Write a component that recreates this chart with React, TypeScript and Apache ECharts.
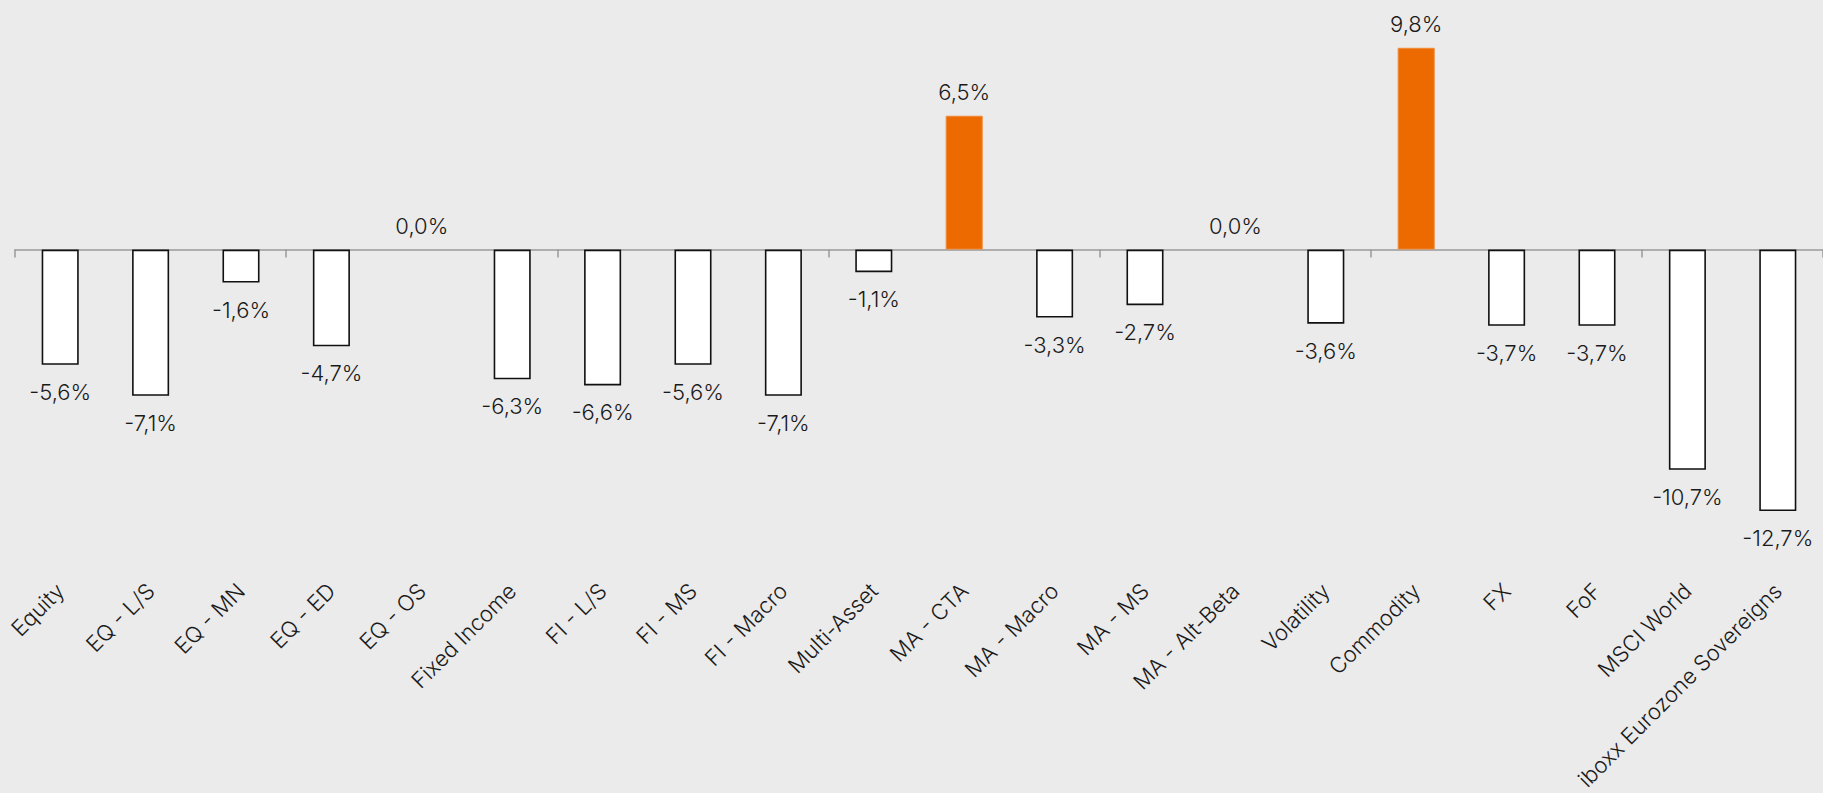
import React, { useEffect, useRef } from "react";
import * as echarts from "echarts";

const categories: string[] = [
  "Equity",
  "EQ - L/S",
  "EQ - MN",
  "EQ - ED",
  "EQ - OS",
  "Fixed Income",
  "FI - L/S",
  "FI - MS",
  "FI - Macro",
  "Multi-Asset",
  "MA - CTA",
  "MA - Macro",
  "MA - MS",
  "MA - Alt-Beta",
  "Volatility",
  "Commodity",
  "FX",
  "FoF",
  "MSCI World",
  "iboxx Eurozone Sovereigns",
];

const values: number[] = [
  -5.6, -7.1, -1.6, -4.7, 0.0, -6.3, -6.6, -5.6, -7.1, -1.1, 6.5, -3.3, -2.7, 0.0,
  -3.6, 9.8, -3.7, -3.7, -10.7, -12.7,
];

const highlighted: string[] = ["MA - CTA", "Commodity"];

const Y_MIN = -16;
const Y_MAX = 12;

const FONT = "Inter, 'Liberation Sans', sans-serif";

export default function App() {
  const ref = useRef<HTMLDivElement>(null);

  useEffect(() => {
    if (!ref.current) return;
    const chart = echarts.init(ref.current, null, { renderer: "svg" });

    const data = values.map((v, i) => {
      const hl = highlighted.includes(categories[i]);
      return {
        value: v,
        itemStyle: hl
          ? { color: "#EC6A00", borderColor: "#F08A3A", borderWidth: 1 }
          : {
              color: "#FFFFFF",
              borderColor: "#111111",
              borderWidth: v === 0 ? 0 : 1.6,
            },
        label:
          v < 0
            ? { position: "bottom", distance: 16 }
            : { position: "top", distance: 13 },
      };
    });

    chart.setOption({
      animation: false,
      backgroundColor: "#EBEBEB",
      grid: { left: 15, right: -6, top: 2.5, height: 580, containLabel: false },
      xAxis: [
        {
          type: "category",
          data: categories,
          axisLine: { onZero: true, lineStyle: { color: "#9A9A9A", width: 1.5 } },
          axisTick: { show: true, length: 8, lineStyle: { color: "#9A9A9A", width: 1.5 } },
          axisLabel: { show: false },
          splitLine: { show: false },
        },
        {
          type: "category",
          data: categories,
          position: "bottom",
          axisLine: { show: false, onZero: false },
          axisTick: { show: false },
          axisLabel: {
            show: true,
            rotate: 45,
            interval: 0,
            margin: 8,
            color: "#1A1A1A",
            fontSize: 22,
            fontFamily: FONT,
            fontWeight: 300,
          },
          splitLine: { show: false },
        },
      ],
      yAxis: {
        type: "value",
        min: Y_MIN,
        max: Y_MAX,
        show: false,
        splitLine: { show: false },
      },
      series: [
        {
          type: "bar",
          xAxisIndex: 0,
          data,
          barWidth: "41%",
          label: {
            show: true,
            color: "#1A1A1A",
            fontSize: 22,
            fontFamily: FONT,
            fontWeight: 300,
            formatter: (p: any) => p.value.toFixed(1).replace(".", ",") + "%",
          },
        },
      ],
    });

    return () => chart.dispose();
  }, []);

  return (
    <div
      ref={ref}
      style={{ position: "fixed", left: 0, top: 0, width: 1823, height: 793 }}
    />
  );
}
